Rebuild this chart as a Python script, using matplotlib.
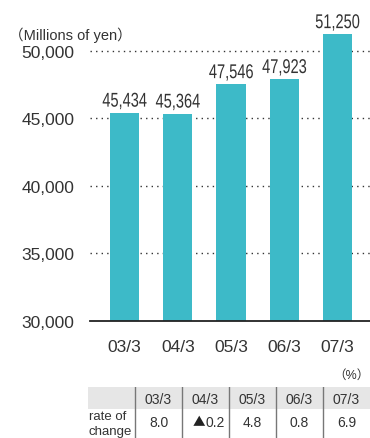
import matplotlib.pyplot as plt
from matplotlib.font_manager import FontProperties
from matplotlib.textpath import TextPath
from matplotlib.patches import PathPatch
from matplotlib.transforms import Affine2D, ScaledTranslation

plt.rcParams['font.family'] = ['Liberation Sans', 'Noto Sans CJK JP', 'DejaVu Sans']

years = ['03/3', '04/3', '05/3', '06/3', '07/3']
sales = [45434, 45364, 47546, 47923, 51250]
rate_labels = ['8.0', '▲0.2', '4.8', '0.8', '6.9']

W, H = 370, 439
fig = plt.figure(figsize=(W / 100, H / 100), dpi=100)

# main bar chart, placed in pixel units
ax_left, ax_right, ax_bottom, ax_top = 90, 370, 322, 11.5
ax = fig.add_axes([ax_left / W, 1 - ax_bottom / H,
                   (ax_right - ax_left) / W, (ax_bottom - ax_top) / H])

x = list(range(len(years)))
bars = ax.bar(x, sales, width=0.55, color='#3DBAC8', zorder=3)
ax.set_xlim(-0.65, 4.61)
ax.set_ylim(30000, 53000)

# value labels in a narrowed face (horizontally squeezed glyph outlines)
label_prop = FontProperties(family='Liberation Sans')
for xi, v in zip(x, sales):
    tp = TextPath((0, 0), f'{v:,}', size=20, prop=label_prop)
    ext = tp.get_extents()
    sx = 0.73
    tr = (Affine2D().translate(-(ext.x0 + ext.x1) / 2, 0).scale(sx, 1).translate(0, 6)
          + ScaledTranslation(xi, v, ax.transData))
    fig.patches.append(PathPatch(tp, transform=tr, fc='#333333', ec='none', lw=0,
                                 figure=fig))

ax.set_yticks([30000, 35000, 40000, 45000, 50000])
ax.set_yticklabels([f'{t:,}' for t in ax.get_yticks()])
for t in [35000, 40000, 45000, 50000]:
    ax.axhline(t, color='#333333', lw=1, linestyle=(0, (1, 3)), zorder=1)

ax.set_xticks(x)
ax.set_xticklabels(years)
ax.tick_params(axis='y', length=0, pad=11, labelsize=12.5, labelcolor='#333333')
ax.tick_params(axis='x', length=0, pad=13, labelsize=12.5, labelcolor='#333333')
for s in ['top', 'right', 'left']:
    ax.spines[s].set_visible(False)
ax.spines['bottom'].set_color('#222222')
ax.spines['bottom'].set_linewidth(1.3)
ax.spines['bottom'].set_zorder(4)

fig.text(9 / W, 1 - 35 / H, '（Millions of yen）', fontsize=10.5, color='#333333',
         ha='left', va='center')

# rate of change table
fig.text(370 / W, 1 - 376 / H, '（%）', fontsize=9, color='#333333',
         ha='right', va='center')

t_left, t_top = 88, 388
tab = fig.add_axes([t_left / W, 0, (W - t_left) / W, (H - t_top) / H])
tab.set_xlim(0, 6)
tab.set_ylim(H - t_top, 0)
tab.axis('off')
tab.axhspan(0, 22, color='#E6E6E6', lw=0)
for i in range(1, 6):
    tab.axvline(i, color='#777777', lw=1)
for i, (yr, r) in enumerate(zip(years, rate_labels)):
    tab.text(i + 1.5, 12, yr, ha='center', va='center', fontsize=10, color='#333333')
    if r.startswith('▲'):
        # full-size triangle from the CJK face, digits as in the other cells
        tab.text(i + 1.5, 35, '▲', ha='right', va='center', fontsize=9,
                 color='#222222', family='Noto Sans CJK JP')
        tab.text(i + 1.5, 35, r[1:], ha='left', va='center', fontsize=10,
                 color='#333333')
    else:
        tab.text(i + 1.5, 35, r, ha='center', va='center', fontsize=10, color='#333333')
tab.text(0.02, 29, 'rate of', ha='left', va='center', fontsize=9.5, color='#333333')
tab.text(0.02, 44, 'change', ha='left', va='center', fontsize=9.5, color='#333333')

fig.savefig('out.png', dpi=100)
